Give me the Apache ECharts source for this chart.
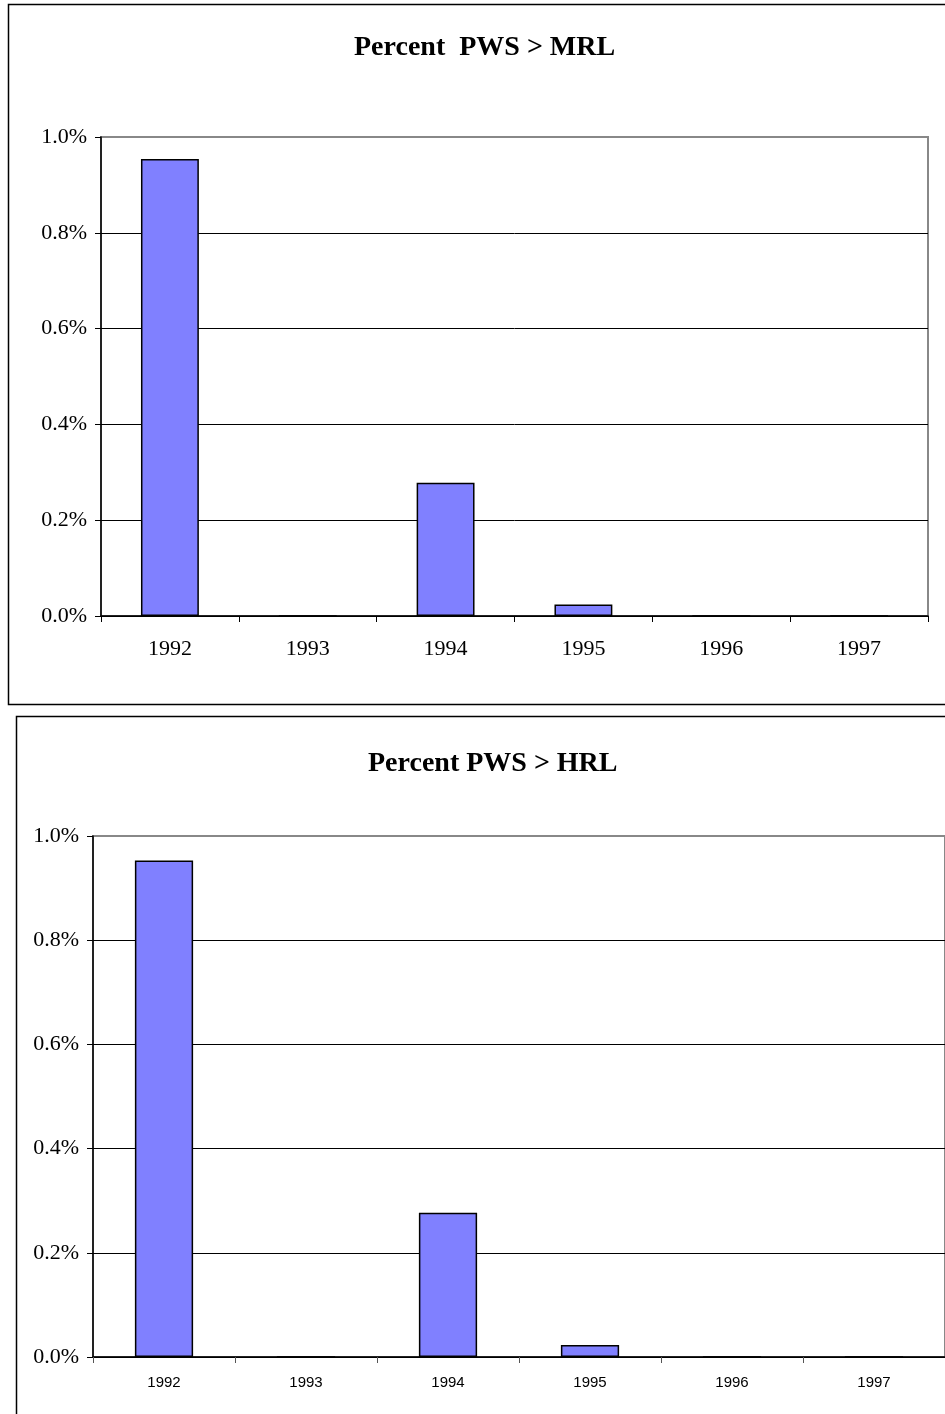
<!DOCTYPE html>
<html>
<head>
<meta charset="utf-8">
<script src="https://cdn.jsdelivr.net/npm/echarts@6/dist/echarts.min.js"></script>
<style>
  html, body { margin: 0; padding: 0; background: #fff; overflow: hidden; }
  #chart { width: 945px; height: 1414px; }
</style>
</head>
<body>
<div id="chart"></div>
<script>
// years on the x axis
const years = ['1992', '1993', '1994', '1995', '1996', '1997'];
// percent of public water systems above the limit (values in %)
const mrlValues = [0.954, 0, 0.278, 0.024, 0, 0];
const hrlValues = [0.953, 0, 0.277, 0.023, 0, 0];
const yTicks = { min: 0, max: 1.0, interval: 0.2 };

const serif = 'Liberation Serif, Times New Roman, serif';
const sans = 'Liberation Sans, Arial, sans-serif';

const pct = v => v.toFixed(1) + '%';

const chart = echarts.init(document.getElementById('chart'));

// last split line (1.0%) sits on the grey plot border
const splitColors = ['#000', '#000', '#000', '#000', '#000', '#888'];

const option = {
  animation: false,
  backgroundColor: '#fff',
  graphic: [
    // chart frames
    { type: 'rect', shape: { x: 8.5, y: 4.5, width: 1000, height: 700 },
      style: { fill: 'none', stroke: '#000', lineWidth: 1.5 }, z: 100 },
    { type: 'rect', shape: { x: 16.5, y: 716.5, width: 1000, height: 760 },
      style: { fill: 'none', stroke: '#000', lineWidth: 1.5 }, z: 100 },
    // titles
    { type: 'text', left: 354, top: 34,
      style: { text: 'Percent  PWS > MRL', font: 'bold 28px ' + serif, fill: '#000' } },
    { type: 'text', left: 368, top: 750,
      style: { text: 'Percent PWS > HRL', font: 'bold 28px ' + serif, fill: '#000' } }
  ],
  grid: [
    { left: 101, top: 137, width: 827, height: 479, show: true,
      borderColor: '#888', borderWidth: 2, backgroundColor: '#fff' },
    { left: 93, top: 836, width: 858, height: 521, show: true,
      borderColor: '#888', borderWidth: 2, backgroundColor: '#fff' }
  ],
  xAxis: [
    {
      type: 'category', gridIndex: 0, data: years,
      axisLine: { lineStyle: { color: '#000', width: 1.5 } },
      axisTick: { show: true, length: 6, lineStyle: { color: '#000' } },
      axisLabel: { color: '#000', fontFamily: serif, fontSize: 22, margin: 22 }
    },
    {
      type: 'category', gridIndex: 1, data: years,
      axisLine: { lineStyle: { color: '#000', width: 1.5 } },
      axisTick: { show: true, length: 6, lineStyle: { color: '#555' } },
      axisLabel: { color: '#000', fontFamily: sans, fontSize: 15, margin: 18 }
    }
  ],
  yAxis: [0, 1].map(i => ({
    type: 'value', gridIndex: i,
    min: yTicks.min, max: yTicks.max, interval: yTicks.interval,
    axisLine: { show: true, lineStyle: { color: '#000', width: 1.5 } },
    axisTick: { show: true, length: 6, lineStyle: { color: '#000' } },
    axisLabel: { color: '#000', fontFamily: serif, fontSize: 22, margin: 14, formatter: pct },
    splitLine: { show: true, lineStyle: { color: splitColors, width: 1 } }
  })),
  series: [
    {
      type: 'bar', xAxisIndex: 0, yAxisIndex: 0, data: mrlValues,
      barWidth: '42%',
      itemStyle: { color: '#8080FF', borderColor: '#000', borderWidth: 1.5 }
    },
    {
      type: 'bar', xAxisIndex: 1, yAxisIndex: 1, data: hrlValues,
      barWidth: '41%',
      itemStyle: { color: '#8080FF', borderColor: '#000', borderWidth: 1.5 }
    }
  ]
};

chart.setOption(option);
</script>
</body>
</html>
